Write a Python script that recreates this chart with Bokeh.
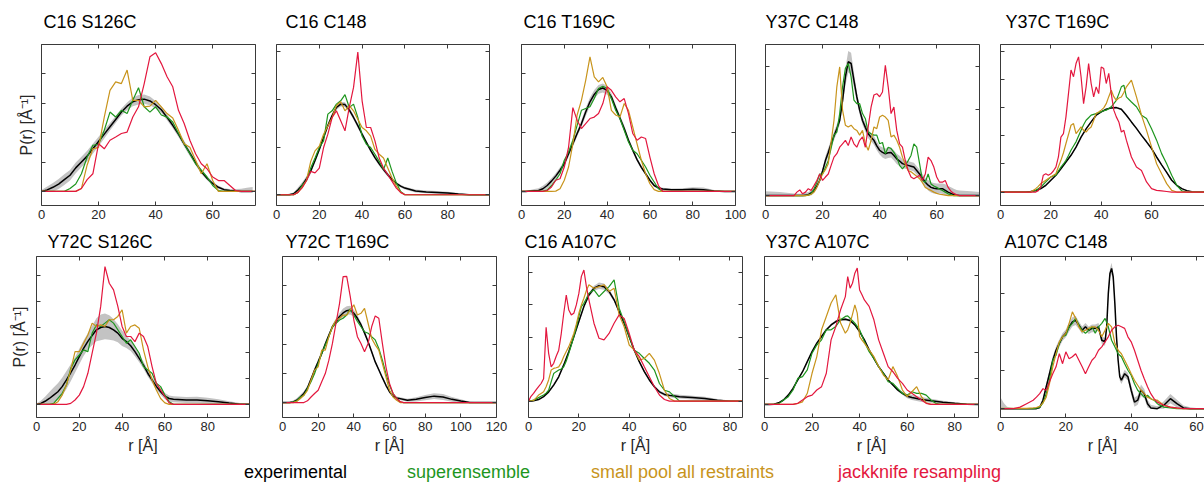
from bokeh.plotting import figure
from bokeh.models import FixedTicker, LinearAxis, CustomLabelingPolicy, Div
from bokeh.layouts import column, row
from bokeh.embed import file_html
from bokeh.resources import INLINE

# ---------------- data (P(r) in units of one y-tick step) ----------------
# C16 S126C
c16_s126c_r_exp = list(range(0, 76, 2))
c16_s126c_exp = [0, 0.05, 0.14, 0.25, 0.4, 0.55, 0.8, 1.0, 1.2, 1.45, 1.7, 1.95, 2.2, 2.45, 2.7, 2.9, 3.05, 3.12, 3.14, 3.08,
                 2.95, 2.78, 2.52, 2.25, 1.95, 1.62, 1.3, 0.98, 0.68, 0.45, 0.27, 0.14, 0.06, 0.03, 0.01, 0, 0, 0]
c16_s126c_err = [0.05, 0.12, 0.15, 0.17, 0.18, 0.18, 0.18, 0.18, 0.18, 0.17, 0.16, 0.15, 0.13, 0.12, 0.12, 0.13, 0.15, 0.16, 0.16,
                 0.15, 0.13, 0.11, 0.1, 0.1, 0.1, 0.1, 0.1, 0.09, 0.08, 0.07, 0.06, 0.05, 0.05, 0.05, 0.07, 0.09, 0.12, 0.15]
c16_s126c_r_fit = [0] + list(range(8, 72, 2)) + [75]
c16_s126c_sup = [0, 0, 0.1, 0.25, 0.6, 1.17, 1.57, 1.6, 2.08, 2.7, 2.53, 2.76, 2.65, 3.1, 3.53, 2.88, 2.7, 2.88, 2.6, 2.53,
                 2.36, 1.97, 1.62, 1.28, 0.94, 0.72, 0.49, 0.2, 0.03, 0, 0, 0, 0, 0]
c16_s126c_pool = [0, 0, 0, 0, 0.1, 0.9, 1.45, 1.5, 2.53, 3.44, 3.73, 3.67, 4.13, 3.1, 3.1, 2.88, 2.9, 3.1, 2.88, 2.65,
                  2.5, 2.08, 1.62, 1.5, 1.06, 0.6, 0.94, 0.37, 0, 0, 0, 0, 0, 0]
c16_s126c_jk = [0, 0, 0, 0, 0.1, 0.4, 0.6, 1.62, 1.45, 1.74, 1.85, 1.97, 2.02, 2.53, 2.88, 3.67, 4.58, 4.72, 4.35, 3.9,
                3.56, 2.76, 2.31, 1.74, 1.28, 0.94, 0.77, 0.49, 0.37, 0.37, 0.2, 0.03, 0, 0]

# C16 C148
c16_c148_r_exp = list(range(0, 62, 2)) + [65, 70, 75, 80, 85, 90, 95, 100]
c16_c148_exp = [0, 0, 0, 0, 0.02, 0.1, 0.2, 0.33, 0.5, 0.72, 0.95, 1.2, 1.45, 1.66, 1.83, 1.9, 1.89, 1.78, 1.62, 1.45,
                1.27, 1.1, 0.93, 0.78, 0.65, 0.53, 0.42, 0.32, 0.24, 0.18, 0.14, 0.08, 0.06, 0.05, 0.035, 0.015, 0, 0, 0]
c16_c148_err = [0.01, 0.01, 0.01, 0.02, 0.03, 0.05, 0.06, 0.06, 0.06, 0.05, 0.05, 0.05, 0.05, 0.05, 0.05, 0.05, 0.05, 0.05,
                0.05, 0.05, 0.04, 0.04, 0.04, 0.04, 0.04, 0.04, 0.04, 0.04, 0.03, 0.03, 0.03, 0.03, 0.03, 0.03, 0.03, 0.02,
                0.01, 0, 0]
c16_c148_r_fit = [0] + list(range(8, 62, 2)) + [100]
c16_c148_sup = [0, 0, 0.05, 0.2, 0.3, 0.56, 0.77, 0.99, 1.13, 1.69, 1.76, 1.9, 1.97, 2.1, 1.83, 1.9, 1.62, 1.23, 1.06, 0.99,
                0.85, 0.7, 0.53, 0.77, 0.49, 0.25, 0.07, 0, 0]
c16_c148_pool = [0, 0, 0.05, 0.15, 0.3, 0.7, 0.92, 1.02, 1.27, 1.44, 1.62, 1.87, 1.95, 1.76, 1.87, 1.76, 1.58, 1.41, 1.34,
                 1.23, 0.95, 0.85, 0.77, 0.56, 0.35, 0.18, 0.05, 0, 0]
c16_c148_jk = [0, 0, 0.05, 0.15, 0.3, 0.49, 0.46, 0.56, 0.99, 1.27, 1.62, 1.76, 1.55, 1.34, 1.83, 2.25, 2.99, 1.97, 1.41,
               1.41, 1.13, 0.77, 0.56, 0.42, 0.28, 0.14, 0.05, 0, 0]

# C16 T169C
c16_t169c_r_exp = list(range(0, 68, 2)) + [70, 75, 80, 85, 90, 95, 100]
c16_t169c_exp = [0, 0, 0.01, 0.02, 0.03, 0.09, 0.2, 0.35, 0.52, 0.72, 0.94, 1.28, 1.62, 1.97, 2.3, 2.7, 3.05, 3.3, 3.47, 3.52,
                 3.44, 3.22, 2.85, 2.5, 2.14, 1.74, 1.4, 1.08, 0.82, 0.6, 0.38, 0.2, 0.12, 0.08, 0.06, 0.06, 0.07, 0.06,
                 0.01, 0, 0]
c16_t169c_err = [0, 0.02, 0.04, 0.06, 0.08, 0.1, 0.1, 0.1, 0.1, 0.1, 0.1, 0.1, 0.1, 0.1, 0.12, 0.14, 0.15, 0.15, 0.15, 0.15,
                 0.15, 0.12, 0.1, 0.1, 0.1, 0.08, 0.08, 0.06, 0.06, 0.05, 0.05, 0.04, 0.04, 0.04, 0.04, 0.05, 0.07, 0.07,
                 0.04, 0.01, 0]
c16_t169c_r_fit = [0] + list(range(10, 68, 2)) + [100]
c16_t169c_sup = [0, 0, 0.05, 0.2, 0.38, 0.6, 1.06, 1.34, 1.74, 2.25, 2.76, 2.82, 2.88, 3.16, 3.5, 3.58, 3.5, 3.16, 2.76, 2.48,
                 2.08, 1.68, 1.4, 1.28, 1.06, 0.83, 0.55, 0.32, 0.09, 0, 0]
c16_t169c_pool = [0, 0, 0, 0, 0.01, 0.09, 0.38, 0.83, 1.62, 2.6, 3.1, 3.78, 4.58, 3.9, 3.73, 3.88, 3.56, 2.76, 2.6, 2.53,
                  2.99, 2.76, 2.19, 1.62, 1.06, 0.6, 0.26, 0.06, 0, 0, 0]
c16_t169c_jk = [0, 0, 0.03, 0.15, 0.38, 0.43, 0.83, 1.51, 2.85, 2.42, 2.14, 2.31, 2.48, 2.53, 2.65, 2.99, 3.56, 3.44, 3.22,
                3.05, 3.16, 2.65, 1.97, 1.74, 1.85, 1.8, 1.17, 0.6, 0.2, 0, 0]

# Y37C C148
y37c_c148_r_exp = [0, 5] + list(range(10, 69)) + [72, 75]
y37c_c148_exp = [0, 0,
                 0, 0, 0, 0, 0.01, 0.02, 0.06, 0.12, 0.22, 0.35,
                 0.57, 0.81, 1.0, 1.2, 1.38, 1.55, 1.74, 2.2, 2.75, 3.1,
                 3.06, 2.67, 2.29, 1.98, 1.74, 1.58, 1.43, 1.35, 1.28, 1.15,
                 1.05, 1.0, 0.97, 0.99, 1.0, 0.93, 0.85, 0.8, 0.74, 0.72,
                 0.7, 0.68, 0.66, 0.58, 0.5, 0.4, 0.31, 0.24, 0.19, 0.17,
                 0.16, 0.16, 0.16, 0.12, 0.08, 0.05, 0.02, 0.01, 0,
                 0, 0]
y37c_c148_err = [0.1, 0.08,
                 0.05, 0.04, 0.04, 0.04, 0.06, 0.06, 0.06, 0.06, 0.06, 0.06,
                 0.06, 0.1, 0.1, 0.1, 0.1, 0.1, 0.1, 0.15, 0.2, 0.25,
                 0.25, 0.18, 0.12, 0.1, 0.1, 0.1, 0.1, 0.1, 0.1, 0.1,
                 0.1, 0.12, 0.12, 0.12, 0.12, 0.12, 0.12, 0.12, 0.1, 0.1,
                 0.1, 0.1, 0.1, 0.1, 0.1, 0.1, 0.1, 0.12, 0.12, 0.12,
                 0.12, 0.12, 0.12, 0.14, 0.14, 0.14, 0.14, 0.12, 0.12,
                 0.1, 0.08]
y37c_c148_r_fit = y37c_c148_r_exp
y37c_c148_sup = [0, 0,
                 0, 0, 0, 0, 0, 0.01, 0.04, 0.15, 0.31, 0.5,
                 0.5, 0.65, 0.81, 1.1, 1.4, 1.47, 1.9, 2.52, 2.95, 3.06,
                 2.75, 2.21, 2.13, 2.13, 1.9, 1.78, 1.47, 1.43, 1.4, 1.4,
                 1.2, 1.23, 0.97, 1.12, 1.09, 1.0, 0.89, 0.7, 0.62, 0.7,
                 0.81, 0.93, 1.2, 1.12, 0.74, 0.35, 0.31, 0.5, 0.27, 0.22,
                 0.19, 0.15, 0.12, 0.08, 0.04, 0.02, 0, 0, 0,
                 0, 0]
y37c_c148_pool = [0, 0,
                  0, 0, 0, 0, 0, 0.01, 0.03, 0.08, 0.19, 0.35,
                  0.5, 0.6, 0.74, 1.24, 1.74, 2.52, 2.98, 1.98, 1.63, 1.59,
                  1.63, 1.55, 1.51, 1.4, 1.51, 1.2, 1.05, 1.28, 1.59, 1.55,
                  1.82, 1.86, 1.82, 1.74, 1.36, 1.4, 1.28, 1.12, 0.89, 0.72,
                  0.58, 0.55, 0.5, 0.45, 0.39, 0.3, 0.19, 0.15, 0.12, 0.08,
                  0.05, 0.03, 0.02, 0.01, 0, 0, 0, 0, 0,
                  0, 0]
y37c_c148_jk = [0, 0,
                0, 0.08, 0.13, 0.04, 0.08, 0.16, 0.12, 0.23, 0.35, 0.5,
                0.35, 0.43, 0.5, 0.7, 0.89, 0.97, 1.12, 1.2, 1.28, 1.16,
                1.36, 1.2, 1.12, 1.28, 1.36, 1.12, 1.59, 2.05, 2.33, 2.36,
                2.29, 2.4, 3.02, 2.52, 1.9, 2.05, 1.51, 1.2, 1.12, 0.81,
                0.58, 0.43, 0.39, 0.43, 0.47, 0.35, 0.5, 0.89, 0.81, 0.66,
                0.43, 0.31, 0.31, 0.35, 0.19, 0.1, 0.05, 0.02, 0,
                0, 0]

# Y37C T169C
y37c_t169c_r_exp = [0] + list(range(10, 80, 2)) + [85]
y37c_t169c_exp = [0,
                  0, 0.02, 0.05, 0.12, 0.24, 0.42, 0.6, 0.83, 1.07, 1.31,
                  1.6, 1.96, 2.25, 2.5, 2.74, 2.86, 2.95, 3.0, 3.01, 2.95,
                  2.74, 2.5, 2.27, 2.02, 1.79, 1.55, 1.25, 0.97, 0.7, 0.42,
                  0.24, 0.12, 0.05, 0.01, 0,
                  0]
y37c_t169c_err = [0,
                  0.01, 0.02, 0.03, 0.03, 0.03, 0.03, 0.03, 0.03, 0.03, 0.03,
                  0.03, 0.03, 0.03, 0.03, 0.03, 0.03, 0.03, 0.03, 0.03, 0.03,
                  0.03, 0.03, 0.03, 0.03, 0.03, 0.03, 0.03, 0.03, 0.03, 0.03,
                  0.03, 0.02, 0.02, 0.01, 0,
                  0]
y37c_t169c_r_fit = [0, 12] + list(range(14, 51)) + list(range(52, 76, 2)) + [85]
y37c_t169c_sup = [0, 0,
                  0.06, 0.12, 0.18, 0.27, 0.36, 0.45, 0.54, 0.57, 0.6, 0.75,
                  0.89, 1.0, 1.13, 1.3, 1.49, 1.64, 1.79, 2.0, 2.2, 2.4,
                  2.56, 2.65, 2.74, 2.77, 2.8, 2.83, 2.86, 2.9, 2.92, 2.98,
                  3.04, 3.15, 3.27, 3.5, 3.75, 3.81, 3.39,
                  3.21, 3.04, 2.74, 2.62, 2.26, 1.85, 1.37, 1.01, 0.6, 0.24, 0.04, 0,
                  0]
y37c_t169c_pool = [0, 0,
                   0.12, 0.2, 0.3, 0.36, 0.42, 0.48, 0.54, 0.6, 0.65, 0.9,
                   1.13, 1.4, 1.73, 2.05, 2.38, 2.44, 2.08, 2.2, 2.32, 2.2,
                   2.14, 2.25, 2.32, 2.55, 2.8, 2.85, 2.92, 3.0, 3.15, 3.4,
                   3.63, 3.4, 3.27, 3.35, 3.39, 3.55, 3.75,
                   3.99, 3.39, 2.74, 2.2, 1.61, 1.01, 0.65, 0.3, 0.06, 0, 0, 0,
                   0]
y37c_t169c_jk = [0, 0,
                 0, 0.05, 0.18, 0.6, 0.65, 0.6, 0.65, 0.75, 0.89, 1.25,
                 1.96, 2.08, 2.68, 3.51, 4.35, 4.11, 4.58, 4.82, 4.11, 3.15,
                 3.75, 4.58, 3.87, 3.39, 3.75, 3.51, 4.46, 4.4, 3.87, 4.23,
                 3.51, 2.92, 2.68, 2.5, 2.14, 2.2, 1.85,
                 1.25, 0.89, 0.77, 0.36, 0.12, 0.06, 0.04, 0.02, 0, 0, 0, 0,
                 0]

# Y72C S126C
y72c_s126c_r_exp = list(range(0, 66, 2)) + [70, 75, 80, 85, 90, 95, 100]
y72c_s126c_exp = [0, 0.04, 0.12, 0.23, 0.36, 0.49, 0.69, 0.95, 1.23, 1.53, 1.86, 2.18, 2.45, 2.68, 2.9, 2.99, 3.03, 2.99,
                  2.9, 2.77, 2.57, 2.44, 2.28, 2.05, 1.79, 1.53, 1.21, 0.95, 0.7, 0.49, 0.32, 0.23, 0.2,
                  0.17, 0.17, 0.14, 0.1, 0.05, 0.01, 0]
y72c_s126c_err = [0.03, 0.1, 0.18, 0.25, 0.3, 0.33, 0.35, 0.35, 0.33, 0.3, 0.3, 0.3, 0.32, 0.38, 0.45, 0.5, 0.5, 0.48,
                  0.42, 0.35, 0.3, 0.25, 0.2, 0.18, 0.15, 0.14, 0.13, 0.12, 0.12, 0.12, 0.12, 0.12, 0.12,
                  0.12, 0.13, 0.12, 0.1, 0.07, 0.04, 0.02]
y72c_s126c_r_fit = [0] + list(range(6, 66, 2)) + [100]
y72c_s126c_sup = [0, 0, 0.04, 0.23, 0.43, 0.75, 1.4, 1.73, 1.92, 2.12, 2.05, 2.77, 3.09, 3.03, 3.16, 3.29, 3.16, 2.9, 2.64,
                  2.38, 2.51, 2.25, 1.99, 1.47, 1.34, 1.21, 0.82, 0.69, 0.36, 0.1, 0, 0]
y72c_s126c_pool = [0, 0, 0, 0.1, 0.36, 0.75, 1.34, 2.05, 2.05, 2.38, 2.7, 3.16, 3.03, 3.09, 3.03, 3.29, 3.29, 3.42, 3.68,
                   2.77, 3.03, 3.09, 2.96, 2.12, 1.47, 0.95, 0.56, 0.23, 0.06, 0, 0, 0]
y72c_s126c_jk = [0, 0, 0, 0, 0, 0, 0.04, 0.17, 0.36, 0.69, 1.21, 1.99, 2.77, 3.81, 5.36, 4.71, 4.45, 3.81, 3.03, 2.64,
                 2.64, 2.44, 2.77, 2.64, 2.25, 1.47, 0.82, 0.56, 0.3, 0.06, 0, 0]

# Y72C T169C
y72c_t169c_r_exp = list(range(0, 66, 2)) + [70, 75, 80, 85, 90, 95, 100, 105, 110, 120]
y72c_t169c_exp = [0, 0, 0, 0.02, 0.08, 0.19, 0.31, 0.5, 0.8, 1.11, 1.39, 1.68, 2.0, 2.3, 2.59, 2.77, 2.94, 3.06, 3.14,
                  3.16, 3.05, 2.88, 2.66, 2.38, 2.08, 1.74, 1.39, 1.12, 0.85, 0.59, 0.37, 0.22, 0.16,
                  0.08, 0.11, 0.17, 0.22, 0.19, 0.11, 0.05, 0, 0, 0]
y72c_t169c_err = [0, 0.01, 0.03, 0.05, 0.07, 0.08, 0.08, 0.08, 0.08, 0.08, 0.08, 0.08, 0.08, 0.08, 0.08, 0.1, 0.12, 0.15,
                  0.15, 0.15, 0.12, 0.1, 0.08, 0.07, 0.06, 0.06, 0.05, 0.05, 0.05, 0.05, 0.05, 0.05, 0.05,
                  0.05, 0.07, 0.09, 0.1, 0.1, 0.08, 0.06, 0.03, 0.01, 0]
y72c_t169c_r_fit = [0] + list(range(4, 70, 2)) + [120]
y72c_t169c_sup = [0, 0, 0.02, 0.06, 0.19, 0.25, 0.48, 0.71, 0.99, 1.34, 1.68, 1.97, 2.25, 2.59, 2.71, 2.82, 2.88, 2.99,
                  3.2, 2.99, 2.77, 2.59, 2.42, 2.37, 2.25, 2.14, 1.85, 1.45, 0.99, 0.59, 0.31, 0.14, 0.02, 0, 0]
y72c_t169c_pool = [0, 0, 0, 0.04, 0.14, 0.25, 0.42, 0.77, 1.11, 1.22, 1.79, 1.79, 2.25, 2.59, 2.82, 2.88, 2.99, 2.99,
                   3.17, 3.34, 2.99, 3.05, 3.22, 2.71, 2.19, 1.97, 1.79, 1.34, 0.88, 0.42, 0.19, 0.08, 0, 0, 0]
y72c_t169c_jk = [0, 0, 0, 0, 0, 0, 0.06, 0.19, 0.31, 0.42, 0.71, 0.99, 1.45, 2.02, 2.71, 3.39, 4.3, 4.31, 3.62, 2.82,
                 2.25, 2.02, 1.74, 2.02, 2.59, 2.96, 2.88, 2.02, 1.22, 0.65, 0.31, 0.14, 0.03, 0, 0]

# C16 A107C
c16_a107c_r_exp = list(range(0, 62, 2)) + [65, 70, 75, 80, 85]
c16_a107c_exp = [0, 0.01, 0.05, 0.14, 0.29, 0.5, 0.76, 1.13, 1.54, 2.01, 2.48, 2.95, 3.31, 3.52, 3.6, 3.57, 3.42, 3.16,
                 2.79, 2.43, 2.01, 1.59, 1.23, 0.92, 0.66, 0.45, 0.29, 0.21, 0.18, 0.16, 0.14, 0.11, 0.08, 0.03, 0, 0]
c16_a107c_err = [0, 0.01, 0.02, 0.03, 0.04, 0.04, 0.04, 0.04, 0.04, 0.04, 0.05, 0.05, 0.06, 0.08, 0.1, 0.1, 0.08, 0.06,
                 0.05, 0.04, 0.04, 0.04, 0.04, 0.04, 0.04, 0.04, 0.04, 0.05, 0.06, 0.06, 0.06, 0.06, 0.06, 0.04, 0.02, 0]
c16_a107c_r_fit = list(range(0, 25)) + list(range(26, 62, 2)) + [85]
c16_a107c_sup = [0, 0.01, 0.03, 0.07, 0.11, 0.15, 0.19, 0.25, 0.34, 0.6, 0.86, 0.92, 0.97, 1.0, 1.07, 1.25, 1.49, 1.75,
                 2.01, 2.3, 2.64, 2.95, 3.05, 3.2, 3.36,
                 3.47, 3.26, 3.42, 3.57, 3.78, 2.9, 2.48, 2.01, 1.59, 1.49, 1.33, 1.18, 0.97, 0.55, 0.34, 0.29, 0.14, 0,
                 0]
c16_a107c_pool = [0, 0.01, 0.02, 0.1, 0.19, 0.24, 0.29, 0.45, 0.66, 0.97, 1.02, 1.04, 1.07, 1.2, 1.39, 1.55, 1.7, 1.9,
                  2.11, 2.4, 2.74, 3.0, 3.21, 3.45, 3.63,
                  3.52, 3.57, 3.63, 3.42, 3.52, 2.69, 2.32, 1.75, 1.59, 1.28, 1.33, 1.49, 1.28, 0.86, 0.34, 0.08, 0, 0,
                  0]
c16_a107c_jk = [0, 0.15, 0.24, 0.35, 0.45, 0.55, 0.7, 2.3, 1.49, 1.07, 1.18, 1.4, 1.59, 2.1, 2.74, 3.31, 2.84, 2.69, 2.74,
                3.0, 3.36, 3.89, 4.09, 3.57, 3.16,
                2.43, 1.96, 1.91, 2.11, 2.43, 2.69, 2.58, 2.11, 1.59, 1.39, 1.07, 0.76, 0.45, 0.19, 0.05, 0, 0, 0,
                0]

# Y37C A107C
y37c_a107c_r_exp = list(range(0, 68, 2)) + [70, 75, 80, 85, 90]
y37c_a107c_exp = [0, 0, 0.01, 0.06, 0.17, 0.36, 0.62, 0.95, 1.27, 1.66, 2.05, 2.38, 2.64, 2.9, 3.09, 3.22, 3.29, 3.31,
                  3.26, 3.09, 2.83, 2.51, 2.12, 1.79, 1.47, 1.21, 0.95, 0.75, 0.56, 0.43, 0.32, 0.27, 0.23, 0.19,
                  0.14, 0.08, 0.04, 0.01, 0]
y37c_a107c_err = [0, 0.01, 0.02, 0.03, 0.04, 0.04, 0.04, 0.04, 0.04, 0.04, 0.04, 0.04, 0.04, 0.04, 0.05, 0.05, 0.05, 0.05,
                  0.05, 0.05, 0.05, 0.05, 0.04, 0.04, 0.04, 0.04, 0.04, 0.04, 0.05, 0.06, 0.08, 0.1, 0.1, 0.1,
                  0.08, 0.06, 0.04, 0.02, 0]
y37c_a107c_r_fit = [0] + list(range(4, 34, 2)) + list(range(34, 43)) + list(range(44, 76, 2)) + [90]
y37c_a107c_sup = [0,
                  0, 0.03, 0.17, 0.3, 0.56, 1.01, 1.08, 1.34, 1.99, 2.31, 2.51, 2.9, 2.9, 3.03, 3.29,
                  3.42, 3.44, 3.35, 3.25, 3.16, 3.03, 2.9, 2.67, 2.44,
                  2.05, 1.79, 1.47, 1.21, 0.88, 0.82, 0.62, 0.43, 0.36, 0.49, 0.43, 0.43, 0.36, 0.17, 0.04, 0,
                  0]
y37c_a107c_pool = [0,
                   0, 0, 0, 0, 0, 0.04, 0.1, 0.43, 1.21, 1.86, 2.9, 3.42, 3.94, 4.26, 3.16,
                   2.77, 2.9, 3.16, 3.5, 3.87, 3.55, 2.64, 2.5, 2.38,
                   2.12, 1.86, 1.47, 1.14, 0.95, 1.47, 1.08, 0.56, 0.3, 0.49, 0.69, 0.3, 0.06, 0, 0, 0,
                   0]
y37c_a107c_jk = [0,
                 0, 0, 0, 0, 0, 0.04, 0.17, 0.3, 0.36, 0.56, 0.69, 1.21, 2.51, 3.03, 3.68,
                 4.19, 4.97, 4.52, 4.71, 5.1, 5.3, 4.45, 4.26, 4.06,
                 3.81, 3.29, 2.51, 1.99, 1.47, 1.27, 1.01, 0.82, 0.56, 0.43, 0.3, 0.17, 0.04, 0, 0, 0,
                 0]

# A107C C148
a107c_c148_r_exp = (list(range(0, 33)) + [32.5, 33, 33.5, 34, 34.5, 35, 35.5, 36, 36.5] + list(range(37, 47))
                    + [48, 50, 52, 54, 56, 58, 60, 62, 64, 66])
a107c_c148_exp = [0, 0, 0, 0, 0, 0, 0, 0, 0, 0, 0, 0, 0.03, 0.22, 0.57, 0.91, 1.26, 1.52, 1.7, 1.87, 1.96, 2.13, 2.26,
                  2.3, 2.17, 2.04, 2.13, 2.04, 2.09, 2.09, 2.13, 1.78, 1.74,
                  2.13, 3.0, 3.52, 3.65, 3.43, 2.74, 1.87, 1.26, 0.83,
                  0.74, 0.91, 0.83, 0.48, 0.17, 0.22, 0.48, 0.39, 0.13, 0.02,
                  0, 0.09, 0.26, 0.13, 0.02, 0, 0, 0, 0, 0]
a107c_c148_err = [0.3, 0.15, 0.05, 0.03, 0.02, 0.02, 0.02, 0.02, 0.02, 0.02, 0.02, 0.03, 0.05, 0.08, 0.1, 0.1, 0.1, 0.1,
                  0.1, 0.1, 0.1, 0.12, 0.12, 0.12, 0.1, 0.1, 0.1, 0.1, 0.1, 0.1, 0.1, 0.1, 0.1,
                  0.1, 0.1, 0.12, 0.15, 0.12, 0.1, 0.1, 0.1, 0.1,
                  0.1, 0.1, 0.1, 0.12, 0.12, 0.12, 0.15, 0.12, 0.1, 0.08,
                  0.06, 0.1, 0.12, 0.1, 0.06, 0.04, 0.02, 0.01, 0, 0]
a107c_c148_r_fit = [0, 2, 4, 6, 8, 10] + list(range(11, 49)) + [50, 52, 54, 56, 60, 66]
a107c_c148_sup = [0, 0, 0, 0, 0, 0,
                  0.01, 0.04, 0.15, 0.39, 0.74, 1.26, 1.39, 1.7, 1.87, 1.91,
                  2.13, 2.22, 2.35, 2.17, 2.04, 1.96, 2.04, 2.13, 1.96, 2.13,
                  2.22, 2.35, 2.13, 1.78, 1.61, 1.43, 1.35, 1.17, 1.0, 0.87,
                  0.65, 0.48, 0.39, 0.3, 0.35, 0.26, 0.22, 0.13,
                  0.04, 0.02, 0, 0, 0, 0]
a107c_c148_pool = [0.01, 0.01, 0.01, 0.01, 0.01, 0.02,
                   0.03, 0.06, 0.15, 0.3, 0.65, 1.09, 1.43, 1.74, 1.87, 1.96,
                   2.22, 2.52, 2.35, 2.13, 2.0, 2.04, 2.09, 2.13, 2.13, 2.04,
                   1.87, 2.04, 2.22, 2.13, 1.7, 1.52, 1.43, 1.26, 1.09, 0.91,
                   0.74, 0.61, 0.48, 0.39, 0.3, 0.26, 0.22, 0.22,
                   0.09, 0.04, 0.01, 0, 0, 0]
a107c_c148_jk = [0, 0, 0, 0.04, 0.13, 0.22,
                 0.3, 0.39, 0.52, 0.48, 0.7, 0.91, 1.09, 1.43, 1.17, 1.48,
                 1.3, 1.35, 1.43, 1.26, 1.09, 0.91, 1.09, 1.26, 1.35, 1.52,
                 1.61, 1.74, 1.87, 2.04, 2.13, 2.17, 2.13, 2.09, 1.87, 1.74,
                 1.52, 1.26, 1.0, 0.78, 0.57, 0.39, 0.26, 0.17,
                 0.09, 0.04, 0.02, 0, 0, 0]

titles_row1 = ["C16 S126C", "C16 C148", "C16 T169C", "Y37C C148", "Y37C T169C"]
titles_row2 = ["Y72C S126C", "Y72C T169C", "C16 A107C", "Y37C A107C", "A107C C148"]
x_ends_row1 = [75, 100, 100, 75, 85]
x_ends_row2 = [100, 120, 85, 90, 65.5]
y_lims_row1 = [(-0.48, 5.0), (-0.225, 3.15), (-0.48, 5.0), (-0.23, 3.5), (-0.48, 5.26)]
y_lims_row2 = [(-0.51, 5.75), (-0.51, 4.99), (-0.51, 4.51), (-0.51, 5.75), (-0.23, 3.96)]
legend_labels = ["experimental", "superensemble", "small pool all restraints", "jackknife resampling"]
y_label = "P(r) [Å⁻¹]"
x_label = "r [Å]"

# ---------------- styling ----------------
FONT = "Liberation Sans"
AXC = "#3a3a3a"
TXT = "#262626"
C_EXP = "#000000"
C_SUP = "#1e961e"
C_POOL = "#c8941c"
C_JK = "#e3173e"
C_BAND = "#c3c3c3"
FULL_W = 214
FRAME_H = 161

HIDE_LABELS = CustomLabelingPolicy(code="""
for (const i of indices)
    indices.unset(i)
return indices
""")


def style_axis(ax, labels):
    ax.axis_line_color = AXC
    ax.axis_line_width = 1
    ax.major_tick_line_color = AXC
    ax.major_tick_in = 4
    ax.major_tick_out = 0
    ax.minor_tick_line_color = None
    ax.major_label_text_font = FONT
    ax.major_label_text_color = TXT
    ax.major_label_text_font_size = "13px"
    ax.major_label_standoff = 4
    if not labels:
        ax.major_label_policy = HIDE_LABELS
        ax.major_label_text_font_size = "1px"
        ax.major_label_standoff = 0


def style_label(ax, text, standoff):
    ax.axis_label = text
    ax.axis_label_text_font = FONT
    ax.axis_label_text_font_size = "16px"
    ax.axis_label_text_font_style = "normal"
    ax.axis_label_text_color = TXT
    ax.axis_label_standoff = standoff


def panel(title, data, x_full, ylim, frame_w, L, R, T, B, t_off, t_stand, y_stand=None, x_lab=False, last=False):
    r_exp, exp, err, r_fit, sup, pool, jk = data
    assert len(r_exp) == len(exp) == len(err), title
    assert len(r_fit) == len(sup) == len(pool) == len(jk), title
    x_vis = x_full * frame_w / FULL_W
    p = figure(frame_width=frame_w, frame_height=FRAME_H, x_range=(0, x_vis), y_range=ylim,
               output_backend="svg", toolbar_location=None, title=title,
               min_border_left=L, min_border_right=R, min_border_top=T, min_border_bottom=B)
    p.grid.visible = False
    p.outline_line_color = None
    p.title.text_font = FONT
    p.title.text_font_size = "18px"
    p.title.text_font_style = "normal"
    p.title.text_color = "#000000"
    p.title.align = "left"
    p.title.offset = t_off
    p.title.standoff = t_stand

    lim = x_vis - 2.0 if last else x_vis + 0.01
    xt = [t for t in range(0, 130, 20) if t <= lim]
    yt = [t for t in range(0, 7) if t <= ylim[1] + 0.01]
    bottom = p.below[0]
    left = p.left[0]
    bottom.ticker = FixedTicker(ticks=xt)
    left.ticker = FixedTicker(ticks=yt)
    style_axis(bottom, True)
    style_axis(left, False)
    if y_stand is not None:
        style_label(left, y_label, y_stand)
    if x_lab:
        style_label(bottom, x_label, 3)
    top = LinearAxis(ticker=FixedTicker(ticks=xt))
    style_axis(top, False)
    p.add_layout(top, "above")
    if not last:
        right = LinearAxis(ticker=FixedTicker(ticks=yt))
        style_axis(right, False)
        p.add_layout(right, "right")

    lo = [max(e - h, 0) for e, h in zip(exp, err)]
    hi = [e + h for e, h in zip(exp, err)]
    p.varea(x=r_exp, y1=lo, y2=hi, fill_color=C_BAND, fill_alpha=1)
    p.line(r_exp, exp, line_color=C_EXP, line_width=1.5)
    p.line(r_fit, sup, line_color=C_SUP, line_width=1.2)
    p.line(r_fit, pool, line_color=C_POOL, line_width=1.2)
    p.line(r_fit, jk, line_color=C_JK, line_width=1.2)
    return p


row1_data = [
    (c16_s126c_r_exp, c16_s126c_exp, c16_s126c_err, c16_s126c_r_fit, c16_s126c_sup, c16_s126c_pool, c16_s126c_jk),
    (c16_c148_r_exp, c16_c148_exp, c16_c148_err, c16_c148_r_fit, c16_c148_sup, c16_c148_pool, c16_c148_jk),
    (c16_t169c_r_exp, c16_t169c_exp, c16_t169c_err, c16_t169c_r_fit, c16_t169c_sup, c16_t169c_pool, c16_t169c_jk),
    (y37c_c148_r_exp, y37c_c148_exp, y37c_c148_err, y37c_c148_r_fit, y37c_c148_sup, y37c_c148_pool, y37c_c148_jk),
    (y37c_t169c_r_exp, y37c_t169c_exp, y37c_t169c_err, y37c_t169c_r_fit, y37c_t169c_sup, y37c_t169c_pool, y37c_t169c_jk),
]
row2_data = [
    (y72c_s126c_r_exp, y72c_s126c_exp, y72c_s126c_err, y72c_s126c_r_fit, y72c_s126c_sup, y72c_s126c_pool, y72c_s126c_jk),
    (y72c_t169c_r_exp, y72c_t169c_exp, y72c_t169c_err, y72c_t169c_r_fit, y72c_t169c_sup, y72c_t169c_pool, y72c_t169c_jk),
    (c16_a107c_r_exp, c16_a107c_exp, c16_a107c_err, c16_a107c_r_fit, c16_a107c_sup, c16_a107c_pool, c16_a107c_jk),
    (y37c_a107c_r_exp, y37c_a107c_exp, y37c_a107c_err, y37c_a107c_r_fit, y37c_a107c_sup, y37c_a107c_pool, y37c_a107c_jk),
    (a107c_c148_r_exp, a107c_c148_exp, a107c_c148_err, a107c_c148_r_fit, a107c_c148_sup, a107c_c148_pool, a107c_c148_jk),
]

# layout geometry (px): frame width, left border, right border per column (page has no margin)
r1_geom = [(214, 41, 10), (213, 11, 15), (214, 17, 15), (214, 15, 10), (204, 11, 0)]
r2_geom = [(213, 36, 12), (214, 21, 15), (214, 17, 10), (214, 12, 10), (204, 12, 0)]
r1_toff = [2, 9, 2, 0, 5]
r2_toff = [11, 3, -4, 1, 4]

row1 = []
for i in range(5):
    fw, L, R = r1_geom[i]
    row1.append(panel(titles_row1[i], row1_data[i], x_ends_row1[i], y_lims_row1[i], fw, L, R, 44, 23,
                      r1_toff[i], 18, y_stand=3 if i == 0 else None, last=(i == 4)))
row2 = []
for i in range(5):
    fw, L, R = r2_geom[i]
    row2.append(panel(titles_row2[i], row2_data[i], x_ends_row2[i], y_lims_row2[i], fw, L, R, 28, 42,
                      r2_toff[i], 2, y_stand=5 if i == 0 else None, x_lab=True, last=(i == 4)))

# legend: coloured text entries in one HTML strip (not clipped by a canvas)
leg_x = [244, 407, 591, 838]
leg_c = [C_EXP, C_SUP, C_POOL, C_JK]
spans = "".join(
    f'<span style="position:absolute;left:{lx}px;top:4px;color:{lc};white-space:nowrap">{lt}</span>'
    for lx, lt, lc in zip(leg_x, legend_labels, leg_c))
leg_html = (f'<div style="position:relative;width:1204px;height:24px;font-family:\'{FONT}\',Arial,sans-serif;'
            f'font-size:18px;line-height:18px">{spans}</div>')
leg = Div(text=leg_html, width=1204, height=24, margin=0)

layout = column(row(*row1), row(*row2), leg)
open("out.html", "w").write(file_html(layout, INLINE))
